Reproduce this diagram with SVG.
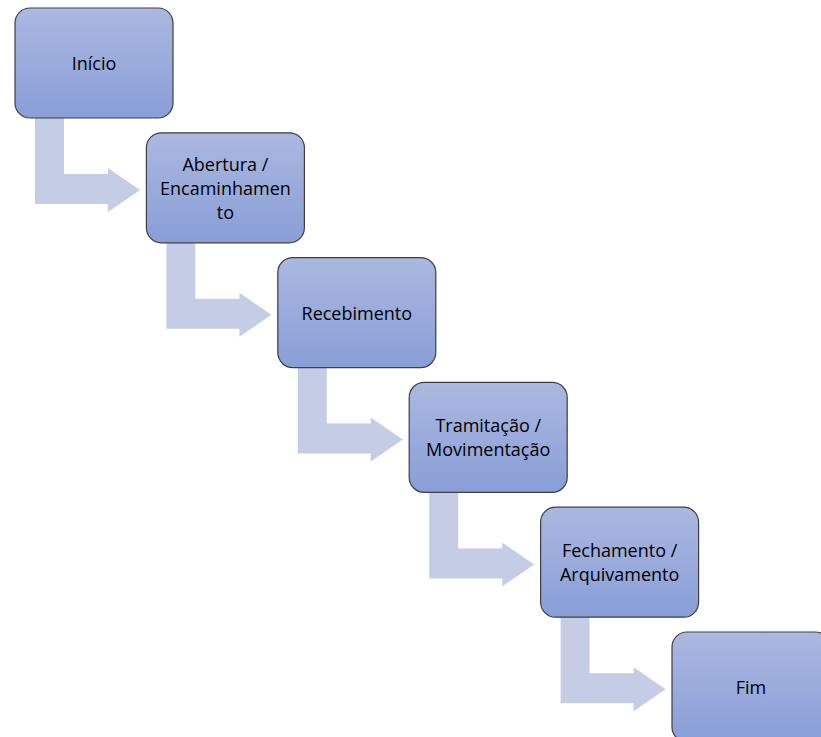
<svg xmlns="http://www.w3.org/2000/svg" width="821" height="737" viewBox="0 0 821 737">
<defs>
<linearGradient id="g" x1="0" y1="0" x2="0" y2="1">
<stop offset="0" stop-color="#abb8e0"/>
<stop offset="1" stop-color="#899ed8"/>
</linearGradient>
<style>
.box{fill:url(#g);stroke:#3f3f3f;stroke-width:1.2}
.arr{fill:#c5cde6}
text{font-family:"Open Sans","Liberation Sans",sans-serif;font-size:18px;fill:#000;text-anchor:middle;dominant-baseline:central}
</style>
<path id="a" class="arr" d="M0,0 H29 V56 H73 V50 L105,72 L73,94 V86 H0 Z"/>
</defs>
<rect width="821" height="737" fill="#fff"/>
<g id="connectors">
<use href="#a" x="35" y="118"/>
<use href="#a" x="166.4" y="242.8"/>
<use href="#a" x="297.8" y="367.6"/>
<use href="#a" x="429.2" y="492.4"/>
<use href="#a" x="560.6" y="617.2"/>
</g>
<g id="n1"><rect class="box" x="15" y="8" width="158" height="110" rx="15"/><text x="94" y="63">Início</text></g>
<g id="n2"><rect class="box" x="146.4" y="132.8" width="158" height="110" rx="15"/><text x="225.4" y="164">Abertura /</text><text x="225.4" y="188">Encaminhamen</text><text x="225.4" y="212">to</text></g>
<g id="n3"><rect class="box" x="277.8" y="257.6" width="158" height="110" rx="15"/><text x="356.8" y="312.6">Recebimento</text></g>
<g id="n4"><rect class="box" x="409.2" y="382.4" width="158" height="110" rx="15"/><text x="488.2" y="425.4">Tramitação /</text><text x="488.2" y="449.4">Movimentação</text></g>
<g id="n5"><rect class="box" x="540.6" y="507.2" width="158" height="110" rx="15"/><text x="619.6" y="550.2">Fechamento /</text><text x="619.6" y="574.2">Arquivamento</text></g>
<g id="n6"><rect class="box" x="672" y="632" width="158" height="110" rx="15"/><text x="751" y="687">Fim</text></g>
</svg>
